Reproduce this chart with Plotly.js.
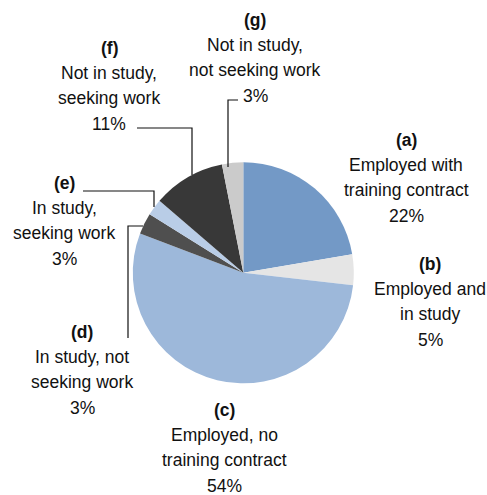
<!DOCTYPE html>
<html>
<head>
<meta charset="utf-8">
<script src="https://cdn.plot.ly/plotly-3.0.1.min.js"></script>
<style>html,body{margin:0;padding:0;background:#fff;}#chart{width:487px;height:495px;}</style>
</head>
<body>
<div id="chart"></div>
<script>
// ---- data ----
const letters = ['(a)', '(b)', '(c)', '(d)', '(e)', '(f)', '(g)'];
const descriptions = [
  ['Employed with', 'training contract'],
  ['Employed and', 'in study'],
  ['Employed, no', 'training contract'],
  ['In study, not', 'seeking work'],
  ['In study,', 'seeking work'],
  ['Not in study,', 'seeking work'],
  ['Not in study,', 'not seeking work']
];
const values = [22.3, 4.5, 54.0, 3.1, 2.4, 10.6, 3.1];
const pctLabels = ['22%', '5%', '54%', '3%', '3%', '11%', '3%'];
const colors = ['#7399C6', '#E5E5E5', '#9DB8DA', '#4F4F4F', '#B9CDE7', '#383838', '#CBCBCB'];

// ---- layout helpers (pixel positions of label blocks) ----
const W = 487, H = 495;
const px = x => x / W;
const py = y => 1 - y / H;
// block centre x and first-line y for each label, line step
const labelPos = [
  {x: 406, y: 140}, {x: 430, y: 264}, {x: 224, y: 410}, {x: 82, y: 332},
  {x: 64, y: 183}, {x: 109, y: 48}, {x: 255, y: 20}
];
const lineStep = 25.2;
// leader lines (pixel polylines)
const leaders = [
  null, null, null,
  [[128, 338], [128, 226], [143, 226]],
  [[83, 191], [154, 191], [154, 207]],
  [[137, 128], [192, 128], [192, 175]],
  [[238, 100], [228, 100], [228, 167]]
];

const font = {family: 'Liberation Sans, Arial, sans-serif', size: 17.5, color: '#111111'};
const annotations = [];
letters.forEach((l, i) => {
  const lines = ['<b>' + l + '</b>'].concat(descriptions[i]).concat([pctLabels[i]]);
  lines.forEach((t, k) => {
    annotations.push({
      xref: 'paper', yref: 'paper',
      x: px(labelPos[i].x), y: py(labelPos[i].y + k * lineStep),
      xanchor: 'center', yanchor: 'middle',
      text: t, showarrow: false, font: font
    });
  });
});
const shapes = [];
leaders.forEach(pts => {
  if (!pts) return;
  const path = pts.map((p, k) => (k ? 'L' : 'M') + px(p[0]) + ',' + py(p[1])).join(' ');
  shapes.push({type: 'path', xref: 'paper', yref: 'paper', path: path,
    line: {color: '#111111', width: 1.2}});
});

const trace = {
  type: 'pie',
  values: values,
  labels: letters,
  sort: false,
  direction: 'clockwise',
  rotation: 0,
  textinfo: 'none',
  hoverinfo: 'none',
  showlegend: false,
  marker: {colors: colors, line: {width: 0}},
  domain: {x: [px(243.3 - 110.5), px(243.3 + 110.5)], y: [py(272.8 + 110.5), py(272.8 - 110.5)]}
};

Plotly.newPlot('chart', [trace], {
  width: W, height: H,
  margin: {l: 0, r: 0, t: 0, b: 0},
  paper_bgcolor: '#ffffff',
  annotations: annotations,
  shapes: shapes,
  font: font
}, {staticPlot: true});
</script>
</body>
</html>
